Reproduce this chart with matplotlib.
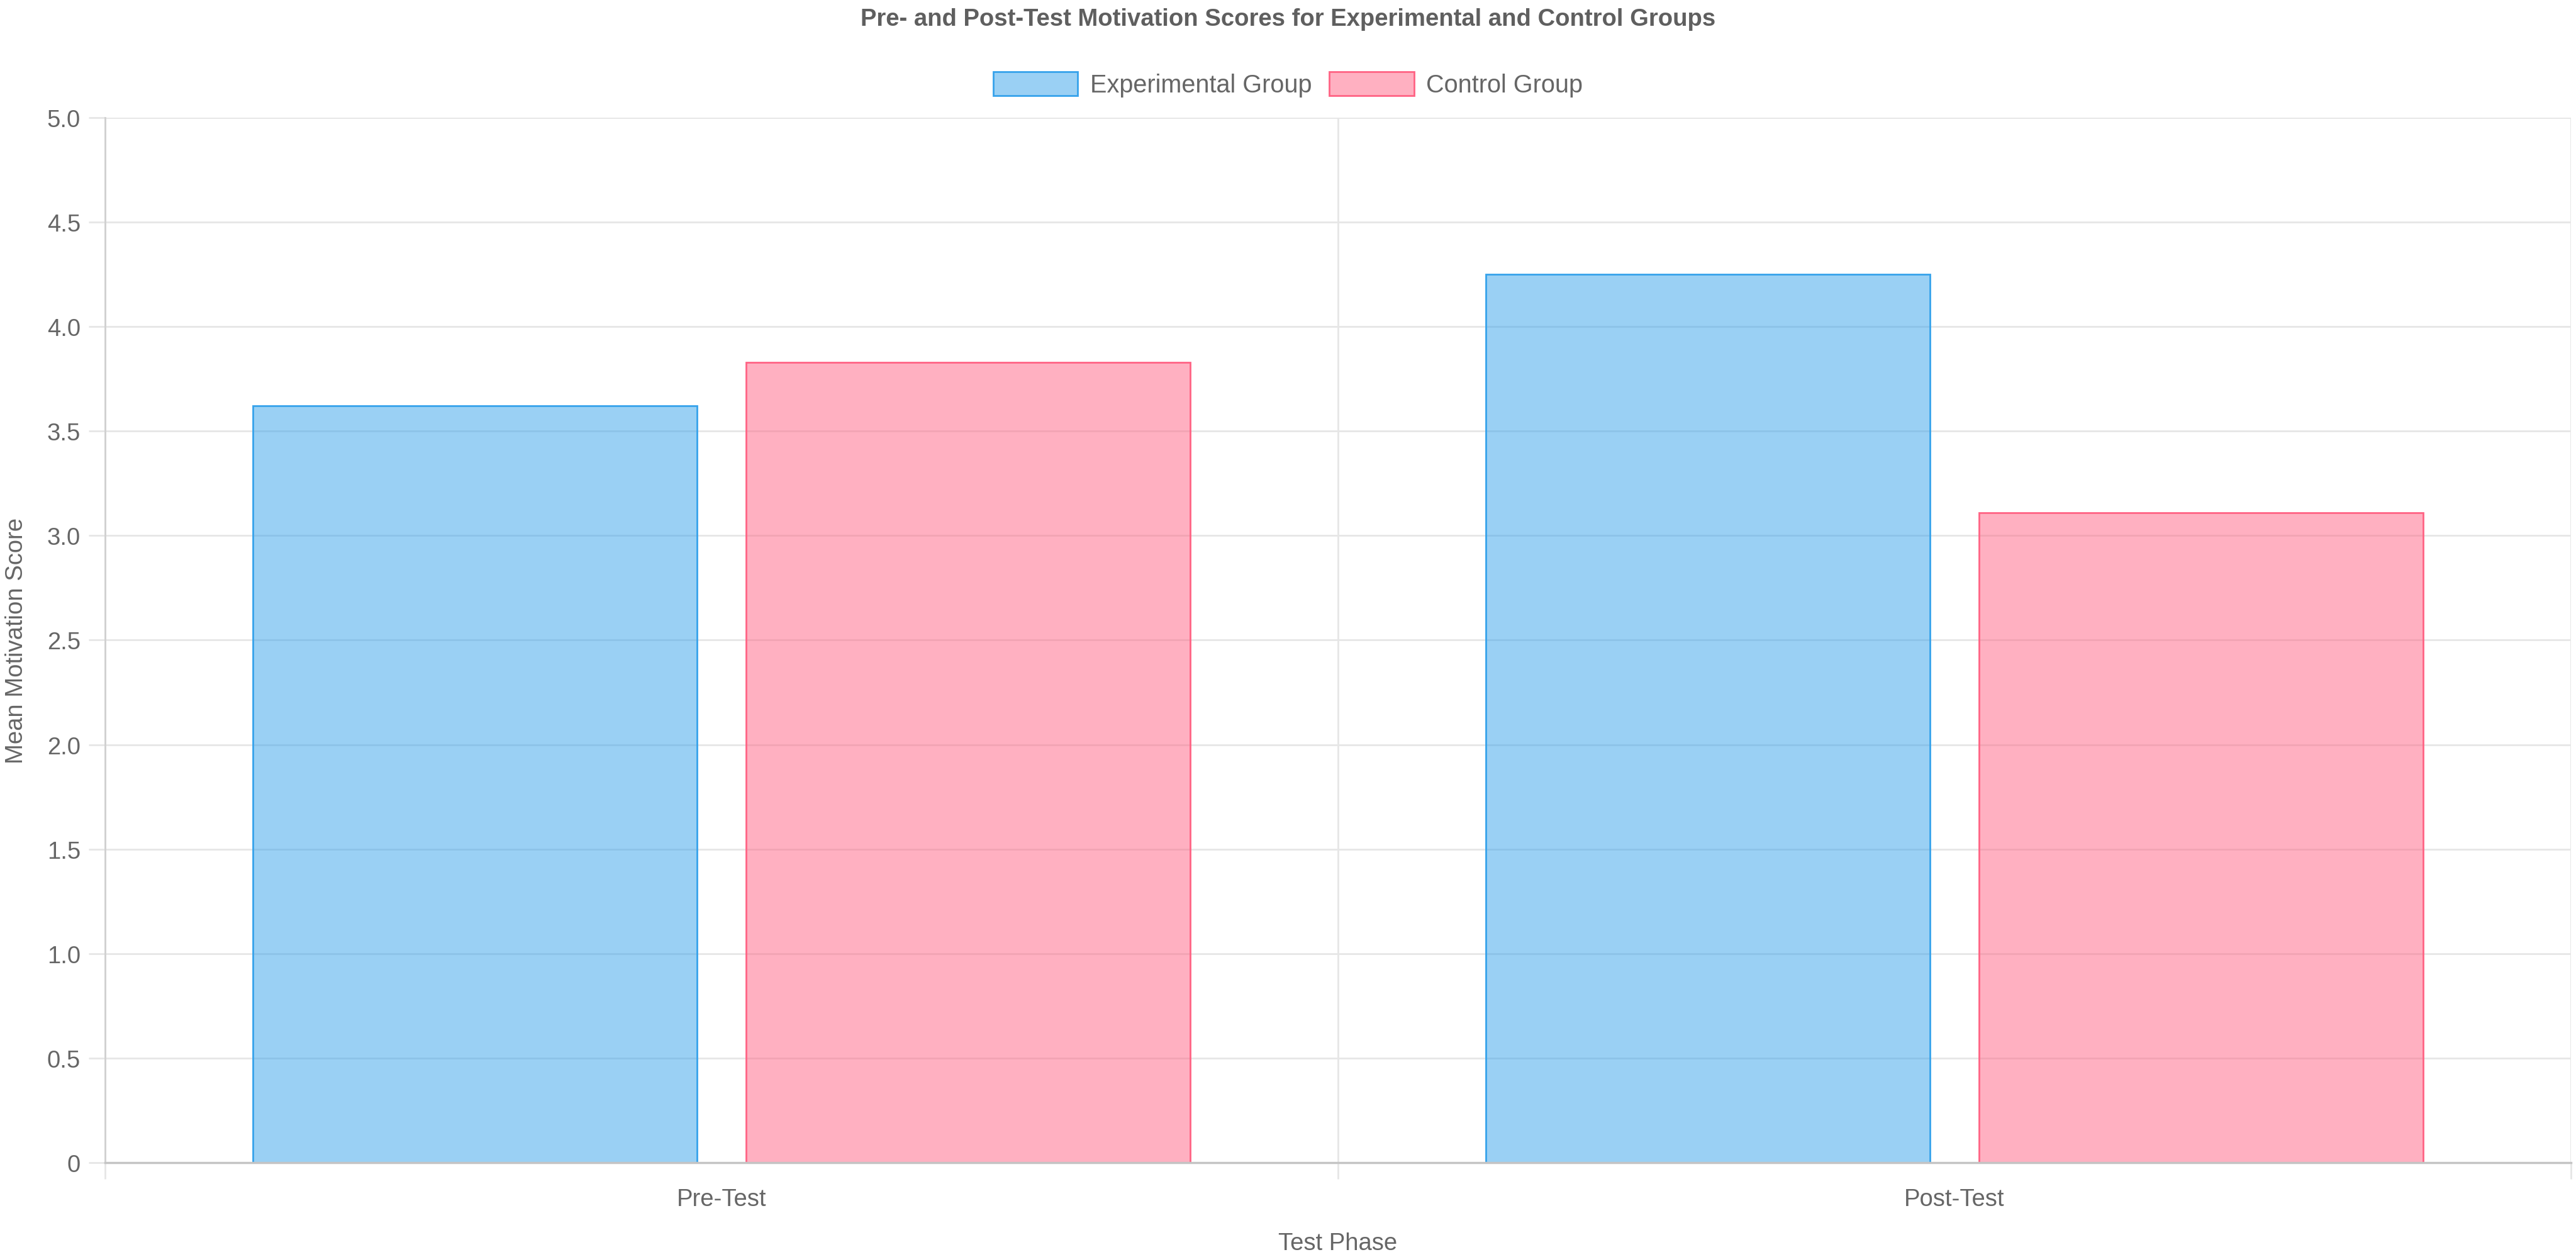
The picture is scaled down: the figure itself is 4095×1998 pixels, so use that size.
import matplotlib
matplotlib.use("Agg")
import matplotlib.pyplot as plt
import numpy as np

fases = ["Pre-Test", "Post-Test"]
grupos = ["Experimental Group", "Control Group"]
experimental = [3.62, 4.25]
controle = [3.83, 3.11]
yticks = [0, 0.5, 1.0, 1.5, 2.0, 2.5, 3.0, 3.5, 4.0, 4.5, 5.0]
ytick_labels = ["0", "0.5", "1.0", "1.5", "2.0", "2.5", "3.0", "3.5", "4.0", "4.5", "5.0"]

plt.rcParams['font.family'] = ['Liberation Sans', 'DejaVu Sans']
TXT = '#666666'
GRID = '#e6e6e6'
FS = 27.5

azul = (54/255, 162/255, 235/255)
rosa = (255/255, 99/255, 132/255)

fig = plt.figure(figsize=(40.95, 19.99), dpi=100)
ax = fig.add_axes([0.0408, 0.075, 0.998 - 0.0408, 0.906 - 0.075])

x = np.arange(len(fases))
w = 0.36
ax.bar(x - 0.2, experimental, w, color=azul + (0.5,), edgecolor=azul, linewidth=2.0, label=grupos[0])
ax.bar(x + 0.2, controle, w, color=rosa + (0.5,), edgecolor=rosa, linewidth=2.0, label=grupos[1])

ax.set_xlim(-0.5, 1.5)
ax.set_ylim(0, 5.0)
ax.set_yticks(yticks)
ax.set_yticklabels(ytick_labels)
ax.set_xticks(x)
ax.set_xticklabels(fases)
ax.set_xticks([-0.5, 0.5, 1.5], minor=True)

ax.set_axisbelow(True)
ax.grid(axis='y', which='major', color=GRID, linewidth=2.0)
ax.grid(axis='x', which='minor', color=GRID, linewidth=2.0)
ax.tick_params(axis='y', which='major', length=19, width=2.0, color=GRID, labelsize=FS, labelcolor=TXT, pad=9)
ax.tick_params(axis='x', which='major', length=0, labelsize=FS, labelcolor=TXT, pad=29)
ax.tick_params(axis='x', which='minor', length=19, width=2.0, color=GRID)

for s in ['top', 'right']:
  ax.spines[s].set_visible(False)
ax.spines['left'].set_color('#d0d0d0')
ax.spines['left'].set_linewidth(2.0)
ax.spines['bottom'].set_color('#c4c4c4')
ax.spines['bottom'].set_linewidth(2.5)

ax.set_ylabel('Mean Motivation Score', fontsize=FS, color=TXT)
ax.yaxis.set_label_coords(-0.036, 0.5)
ax.yaxis.label.set_va('center')
ax.set_xlabel('Test Phase', fontsize=FS, color=TXT)
ax.xaxis.set_label_coords(0.5, -0.077)
ax.xaxis.label.set_va('center')

fig.text(0.5, 0.9845, 'Pre- and Post-Test Motivation Scores for Experimental and Control Groups',
         ha='center', va='center', fontsize=27.5, fontweight='bold', color='#5f5f5f')

fig.legend(loc='center', bbox_to_anchor=(0.5, 0.9325), ncol=2, frameon=False, fontsize=28.5,
           labelcolor=TXT, handlelength=3.4, handleheight=1.09, handletextpad=0.5,
           columnspacing=0.7, borderpad=0)

plt.savefig('out.png', dpi=100)
